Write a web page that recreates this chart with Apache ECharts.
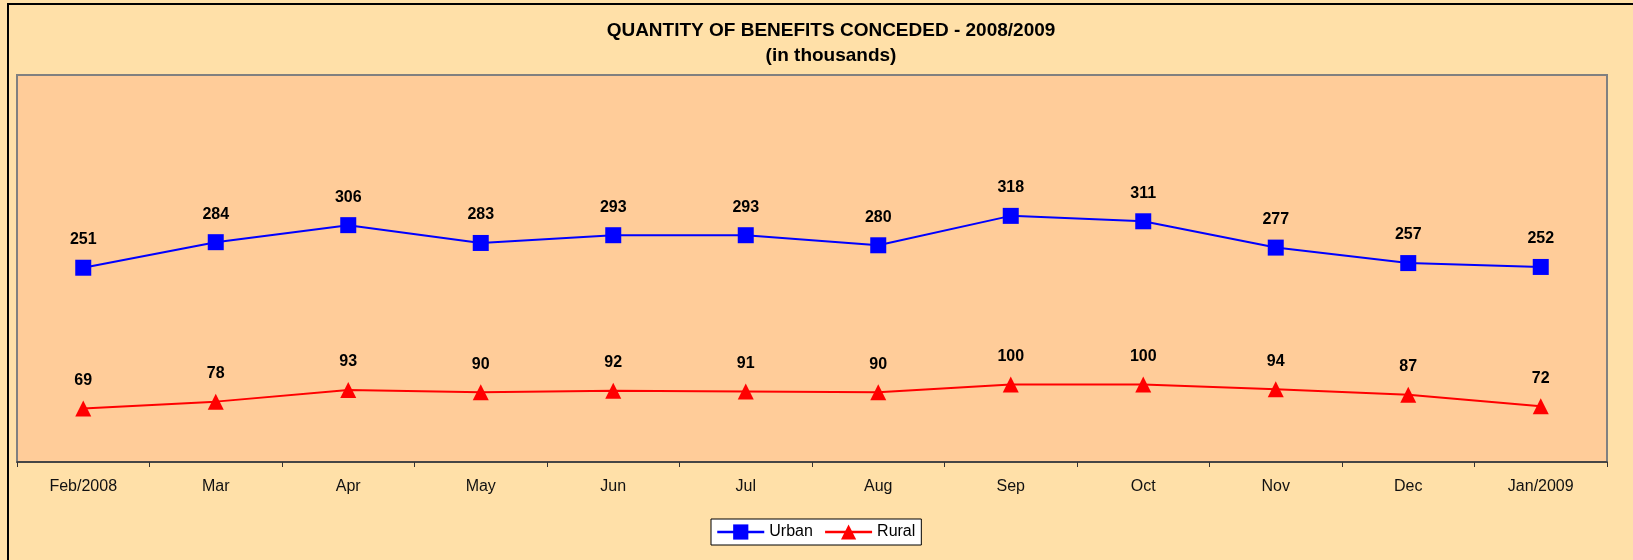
<!DOCTYPE html>
<html>
<head>
<meta charset="utf-8">
<script src="https://cdn.jsdelivr.net/npm/echarts@6/dist/echarts.min.js"></script>
<style>
  html, body { margin: 0; padding: 0; background: #FFE0A8; }
  #chart { width: 1633px; height: 560px; }
</style>
</head>
<body>
<div id="chart"></div>
<script>
const months = ['Feb/2008', 'Mar', 'Apr', 'May', 'Jun', 'Jul', 'Aug', 'Sep', 'Oct', 'Nov', 'Dec', 'Jan/2009'];
const urban = [251, 284, 306, 283, 293, 293, 280, 318, 311, 277, 257, 252];
const rural = [69, 78, 93, 90, 92, 91, 90, 100, 100, 94, 87, 72];

const FONT = '"Liberation Sans", Arial, sans-serif';

const chart = echarts.init(document.getElementById('chart'));

const labelStyle = {
  show: true,
  position: 'top',
  distance: 12,
  color: '#000',
  fontFamily: FONT,
  fontWeight: 'bold',
  fontSize: 16,
};

chart.setOption({
  backgroundColor: '#FFE0A8',
  animation: false,
  graphic: [
    {
      type: 'rect',
      z: -10,
      shape: { x: 8, y: 4, width: 1640, height: 600 },
      style: { fill: 'none', stroke: '#000', lineWidth: 2 },
    },
  ],
  title: {
    text: 'QUANTITY OF BENEFITS CONCEDED - 2008/2009\n(in thousands)',
    left: 826,
    textAlign: 'center',
    top: 13,
    textStyle: {
      fontFamily: FONT,
      fontWeight: 'bold',
      fontSize: 19,
      lineHeight: 25,
      color: '#000',
    },
  },
  legend: {
    data: ['Urban', 'Rural'],
    left: 711,
    top: 519,
    padding: [5, 6, 5, 5],
    itemWidth: 47,
    itemHeight: 19,
    itemGap: 11,
    backgroundColor: '#fff',
    borderColor: '#000',
    borderWidth: 1,
    borderRadius: 0,
    lineStyle: { width: 2.5 },
    textStyle: { fontFamily: FONT, fontSize: 16, color: '#000' },
  },
  grid: {
    left: 17,
    right: 26,
    top: 75,
    bottom: 98,
    show: true,
    backgroundColor: '#FFCC99',
    borderColor: '#808080',
    borderWidth: 2,
  },
  xAxis: {
    type: 'category',
    data: months,
    boundaryGap: true,
    axisLine: { lineStyle: { color: '#333', width: 1.5 } },
    axisTick: { show: true, length: 5, lineStyle: { color: '#333' } },
    axisLabel: { color: '#111', fontFamily: FONT, fontSize: 16, margin: 17, interval: 0 },
  },
  yAxis: {
    type: 'value',
    min: 0,
    max: 500,
    show: false,
    splitLine: { show: false },
  },
  series: [
    {
      name: 'Urban',
      type: 'line',
      data: urban,
      symbol: 'rect',
      symbolSize: 16,
      color: '#0000FF',
      lineStyle: { color: '#0000FF', width: 2 },
      itemStyle: { color: '#0000FF' },
      label: labelStyle,
    },
    {
      name: 'Rural',
      type: 'line',
      data: rural,
      symbol: 'triangle',
      symbolSize: 16,
      color: '#FF0000',
      lineStyle: { color: '#FF0000', width: 2 },
      itemStyle: { color: '#FF0000' },
      label: labelStyle,
    },
  ],
});
</script>
</body>
</html>
